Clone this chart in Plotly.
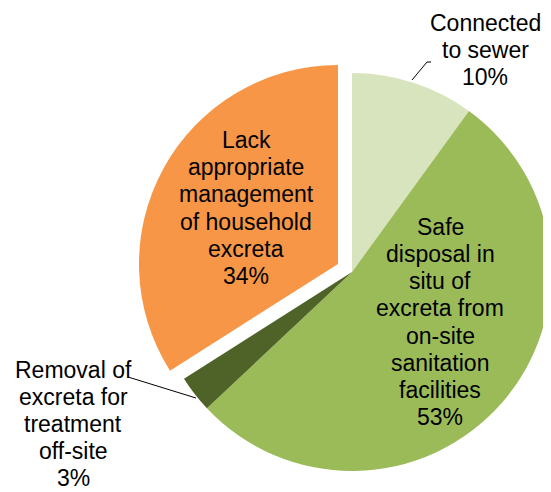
import plotly.graph_objects as go

# The page body has an 8px margin, so the figure is drawn 8px in from the
# window's top-left corner; coordinates below are window pixels.
OFF = 8
W, H = 551 - OFF, 492 - OFF

categories = ["Connected to sewer",
              "Safe disposal in situ of excreta from on-site sanitation facilities",
              "Removal of excreta for treatment off-site",
              "Lack appropriate management of household excreta"]
values = [10, 53, 3, 34]
colors = ["#D7E4BD", "#9BBB59", "#4F6228", "#F79646"]

label_lines = [
    ["Connected", "to sewer", "10%"],
    ["Safe", "disposal in", "situ of", "excreta from", "on-site", "sanitation", "facilities", "53%"],
    ["Removal of", "excreta for", "treatment", "off-site", "3%"],
    ["Lack", "appropriate", "management", "of household", "excreta", "34%"],
]

def fx(px):
    return (px - OFF) / W

def fy(py):
    return 1 - (py - OFF) / H

def px_dom(cx, cy, r):
    return dict(x=[fx(cx - r), fx(cx + r)], y=[fy(cy + r), fy(cy - r)])

cx, cy, r = 352, 272, 199
transparent = "rgba(0,0,0,0)"

fig = go.Figure()
# main pie (all slices except the exploded one)
fig.add_trace(go.Pie(
    labels=categories, values=values, sort=False, direction="clockwise", rotation=0,
    marker=dict(colors=colors[:3] + [transparent], line=dict(width=0)),
    textinfo="none", hoverinfo="label+percent", showlegend=False,
    domain=px_dom(cx, cy, r),
))
# exploded slice
fig.add_trace(go.Pie(
    labels=categories, values=values, sort=False, direction="clockwise", rotation=0,
    marker=dict(colors=[transparent] * 3 + [colors[3]], line=dict(width=0)),
    textinfo="none", hoverinfo="label+percent", showlegend=False,
    domain=px_dom(cx - 14, cy - 8, r),
))

centers = [(485, 50), (440, 322), (73, 424), (246, 208)]
spacing = 27.2
annotations = []
for lines, (lx, ly) in zip(label_lines, centers):
    n = len(lines)
    for i, t in enumerate(lines):
        yy = ly + (i - (n - 1) / 2) * spacing
        annotations.append(dict(
            x=fx(lx), y=fy(yy), xref="paper", yref="paper",
            text=t, showarrow=False, xanchor="center", yanchor="middle",
            font=dict(family="Liberation Sans, Arial", size=23, color="black"),
        ))

def seg(x0, y0, x1, y1):
    return dict(type="line", xref="paper", yref="paper",
                x0=fx(x0), y0=fy(y0), x1=fx(x1), y1=fy(y1),
                line=dict(color="black", width=1))

shapes = [
    seg(431, 62, 427, 62), seg(427, 62, 412, 80),
    seg(128, 377, 196, 398),
]

fig.update_layout(
    width=W, height=H, margin=dict(l=0, r=0, t=0, b=0),
    paper_bgcolor="white", plot_bgcolor="white",
    annotations=annotations, shapes=shapes,
)
fig.write_html("out.html")
